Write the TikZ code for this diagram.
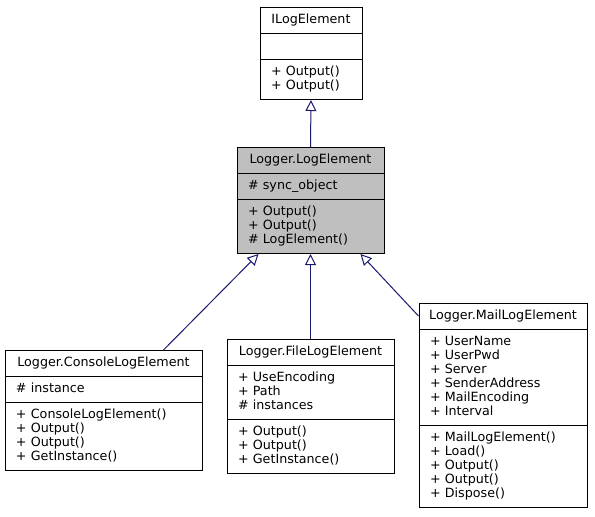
\documentclass[tikz,border=0pt]{standalone}
\usepackage{fontspec}
\setmainfont{DejaVu Sans}
\usetikzlibrary{shapes.multipart, arrows.meta, calc}
\definecolor{edgeblue}{RGB}{25, 25, 112}
\definecolor{basegray}{RGB}{191, 191, 191}
\newcommand{\classname}[1]{\makebox[\linewidth]{#1\strut}}
\tikzset{
  classbox/.style={draw, line width=1pt, rectangle split, rectangle split parts=3,
    fill=white, inner xsep=11pt, inner ysep=5.5pt, anchor=north, align=left,
    font=\fontsize{12.7}{14}\selectfont},
  inherit/.style={draw=edgeblue, line width=1pt, -{Triangle[open, length=11pt, width=11pt]}}
}

\begin{document}
\begin{tikzpicture}[x=1pt, y=-1pt]
  \useasboundingbox (0,0) rectangle (595,517);

  % Interface
  \node[classbox, text width=80pt] (ilog) at (311,7) {
    \classname{ILogElement}
    \nodepart{two} \strut
    \nodepart{three} + Output()\strut\\ + Output()\strut
  };

  % Base class
  \node[classbox, text width=125pt, fill=basegray] (logel) at (310.5,147) {
    \classname{Logger.LogElement}
    \nodepart{two} \# sync\_object\strut
    \nodepart{three} + Output()\strut\\ + Output()\strut\\ \# LogElement()\strut
  };

  % Derived classes
  \node[classbox, text width=175pt] (console) at (103.5,350) {
    \classname{Logger.ConsoleLogElement}
    \nodepart{two} \# instance\strut
    \nodepart{three} + ConsoleLogElement()\strut\\ + Output()\strut\\ + Output()\strut\\ + GetInstance()\strut
  };
  \node[classbox, text width=145pt] (file) at (310.5,339) {
    \classname{Logger.FileLogElement}
    \nodepart{two} + UseEncoding\strut\\ + Path\strut\\ \# instances\strut
    \nodepart{three} + Output()\strut\\ + Output()\strut\\ + GetInstance()\strut
  };
  \node[classbox, text width=146pt] (mail) at (503,303) {
    \classname{Logger.MailLogElement}
    \nodepart{two} + UserName\strut\\ + UserPwd\strut\\ + Server\strut\\ + SenderAddress\strut\\ + MailEncoding\strut\\ + Interval\strut
    \nodepart{three} + MailLogElement()\strut\\ + Load()\strut\\ + Output()\strut\\ + Output()\strut\\ + Dispose()\strut
  };

  % Inheritance
  \draw[inherit] (logel.north) -- (ilog.south);
  \draw[inherit] ($(console.north)+(60,0)$) -- ($(logel.south)+(-52,0)$);
  \draw[inherit] (file.north) -- (logel.south);
  \draw[inherit] ($(mail.north west)+(0,13)$) -- ($(logel.south)+(50,0)$);
\end{tikzpicture}
\end{document}
